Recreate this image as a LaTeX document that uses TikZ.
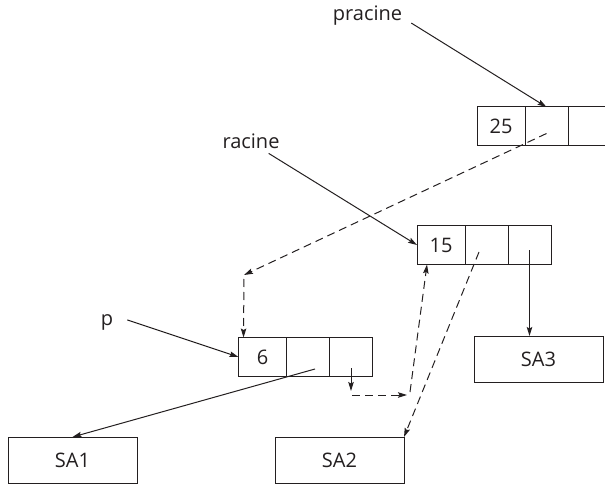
\documentclass[tikz,border=0pt]{standalone}
\usepackage{fontspec}
\setmainfont{Open Sans}
\usetikzlibrary{arrows.meta, positioning, calc}
\definecolor{encre}{HTML}{231F20}
\tikzset{
  valeur/.style={draw=encre, line width=1pt, minimum width=48pt, minimum height=39pt, inner sep=0pt, outer sep=0pt},
  pointeur/.style={valeur, minimum width=43pt},
  sousarbre/.style={valeur, minimum width=129pt, minimum height=46pt},
  etiquette/.style={inner sep=0pt, anchor=base},
  fleche/.style={-{Stealth[length=9pt, width=5.5pt, inset=1.5pt]}, encre, line width=1pt},
  lien/.style={fleche, dash pattern=on 8pt off 5pt},
}

\begin{document}
\begin{tikzpicture}[x=1pt, y=-1pt, font=\fontsize{20}{23}\selectfont, text=encre]
  \useasboundingbox (0,0) rectangle (605,484);
  \clip (0,0) rectangle (605,484);

  % Noeuds de l'arbre
  \node[valeur] (n25v) at (501,126.5) {25};
  \node[pointeur, right=0pt of n25v] (n25g) {};
  \node[pointeur, right=0pt of n25g] (n25d) {};

  \node[valeur] (n15v) at (441,245) {15};
  \node[pointeur, right=0pt of n15v] (n15g) {};
  \node[pointeur, right=0pt of n15g] (n15d) {};

  \node[valeur] (n6v) at (262.5,357) {6};
  \node[pointeur, right=0pt of n6v] (n6g) {};
  \node[pointeur, right=0pt of n6g] (n6d) {};

  % Sous-arbres
  \node[sousarbre] (sa1) at (72.5,460) {SA1};
  \node[sousarbre] (sa2) at (339.5,460) {SA2};
  \node[sousarbre] (sa3) at (538.5,359) {SA3};

  % Variables
  \node[etiquette] (pracine) at (367.5,21) {pracine};
  \node[etiquette] (racine) at (251,149) {racine};
  \node[etiquette] (p) at (107,325) {p};

  \draw[fleche] ([xshift=9pt, yshift=-7pt]pracine.east) -- (n25g.north);
  \draw[fleche] ([xshift=-11pt, yshift=-4pt]racine.south east) -- (n15v.west);
  \draw[fleche] ([xshift=14pt, yshift=2pt]p.east) -- (n6v.west);

  % Ancien chainage
  \coordinate (c1) at (244,275);
  \draw[lien] ([yshift=-7pt]n25g.center) -- (c1);
  \draw[lien, shorten <=4pt] (c1) -- ($(n6v.north west)+(5,0)$);
  \draw[fleche] ([yshift=-5pt]n15d.center) -- (n15d |- sa3.north);
  \draw[lien] ([xshift=-7.5pt, yshift=-7pt]n15g.center) -- (sa2.north east);
  \draw[fleche] ([xshift=7pt, yshift=-12pt]n6g.center) -- (sa1.north);

  % Nouveau chainage
  \coordinate (c2) at (351,391);
  \coordinate (c3) at (407,395);
  \draw[fleche] ([yshift=-11pt]n6d.center) -- (c2);
  \draw[lien] ($(c2)+(1,4)$) -- (c3);
  \draw[lien] ($(c3)+(3,-3)$) -- ($(n15v.south west)+(10,0)$);
\end{tikzpicture}
\end{document}
